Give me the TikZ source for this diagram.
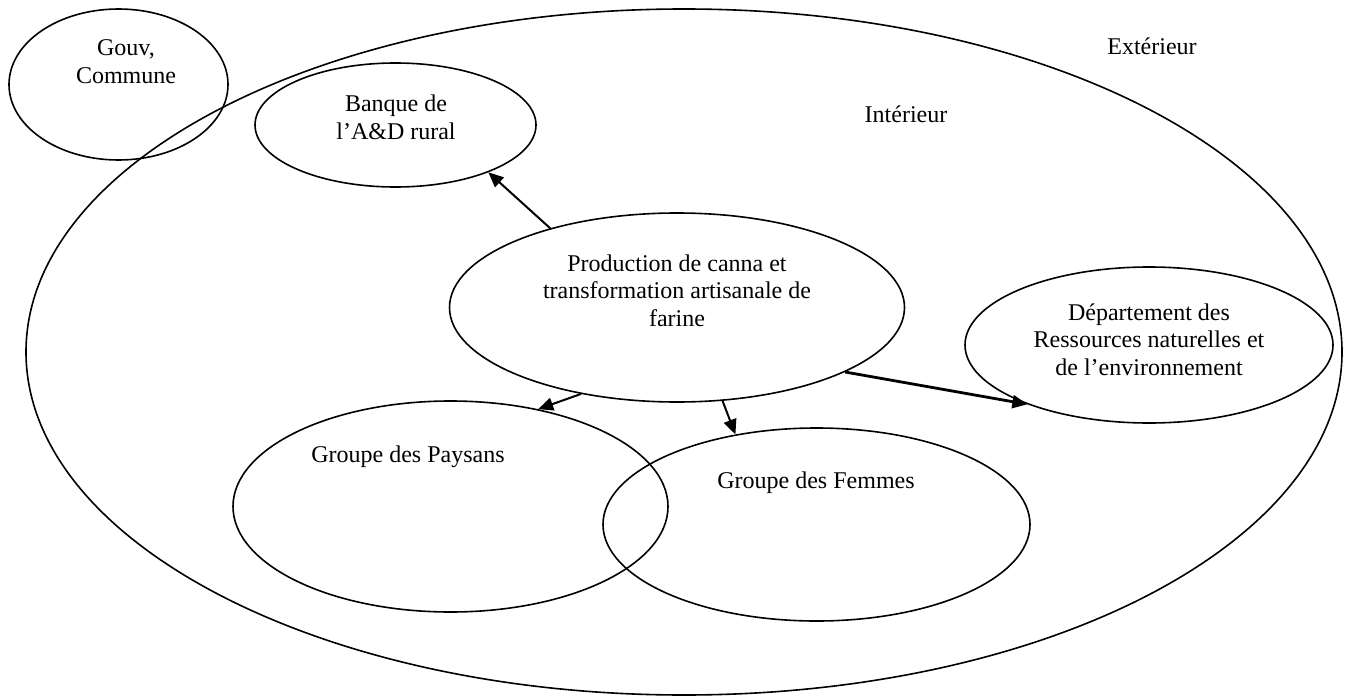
\documentclass[tikz,border=0pt]{standalone}
\usepackage{fontspec}
\setmainfont{Liberation Serif}
\usetikzlibrary{shapes.geometric,arrows.meta}
\newcommand\stacklines[1]{\begin{tabular}[t]{@{}c@{}}#1\end{tabular}}
\begin{document}
\begin{tikzpicture}[x=1pt,y=-1pt,
  oval/.style={draw,ellipse,line width=1.6pt,inner sep=0pt},
  label/.style={anchor=base,inner sep=0pt,font=\fontsize{24}{27.6}\selectfont},
  link/.style={line width=2pt,-{Triangle[length=15pt,width=13pt]}},
  thicklink/.style={line width=2.8pt,-{Triangle[length=15pt,width=13pt]}}]
\useasboundingbox (0,0) rectangle (1351,698);

% circles of the scene
\node[oval,minimum width=1316pt,minimum height=686pt] (inner) at (684,352) {};
\node[oval,minimum width=219pt,minimum height=151pt] (gouv) at (118.5,84.5) {};
\node[oval,minimum width=281pt,minimum height=124pt] (bank) at (395.5,125) {};
\node[oval,minimum width=455pt,minimum height=189pt] (prod) at (677,307.5) {};
\node[oval,minimum width=368pt,minimum height=156pt] (dept) at (1149,345) {};
\node[oval,minimum width=435pt,minimum height=211pt] (farm) at (450.5,506.5) {};
\node[oval,minimum width=427pt,minimum height=193pt] (women) at (816.5,524.5) {};

% texts
\node[label] (tout) at (1152,55) {Extérieur};
\node[label] (tin) at (906,123) {Intérieur};
\node[label] (tgouv) at (126,56) {\stacklines{Gouv,\\Commune}};
\node[label] (tbank) at (396,112) {\stacklines{Banque de\\l’A\&D rural}};
\node[label] (tprod) at (677,271) {\stacklines{Production de canna et\\transformation artisanale de\\farine}};
\node[label] (tdept) at (1149,320) {\stacklines{Département des\\Ressources naturelles et\\de l’environnement}};
\node[label] (tfarm) at (408,462) {Groupe des Paysans};
\node[label] (twomen) at (816,488) {Groupe des Femmes};

% links out of the production
\draw[link] (prod.148) -- (bank.-27);
\draw[link] (prod.-138) -- (farm.48.7);
\draw[link] (prod.-64.3) -- (women.132.7);
\draw[thicklink] (prod.-21) -- (dept.-154.8);
\end{tikzpicture}
\end{document}
